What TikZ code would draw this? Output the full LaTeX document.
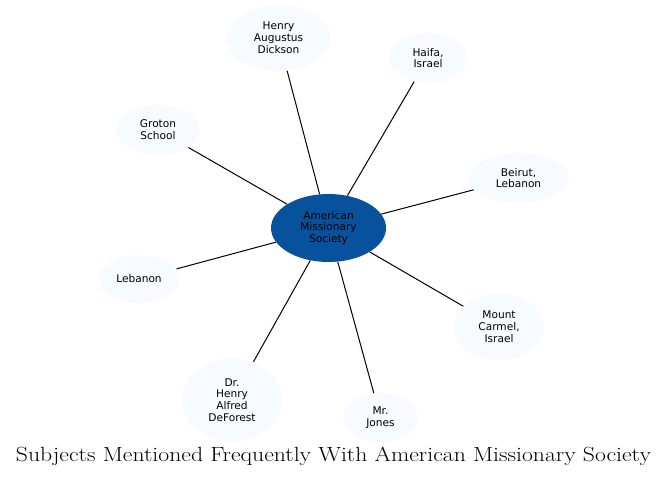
\documentclass[tikz,border=0pt]{standalone}
\usepackage{fontspec}
\usepackage{graphicx}
\newfontfamily\labelfont{DejaVu Sans}
\usetikzlibrary{shapes.geometric}
\definecolor{hubc}{RGB}{8,81,156}
\definecolor{leafc}{RGB}{247,251,255}
\tikzstyle{subjects} = [
  x=1pt,
  y=-1pt,
  every node/.style={
    ellipse,
    inner sep=0pt,
    align=center,
    font=\labelfont\fontsize{10.6}{11.8}\selectfont,
  },
]
\tikzstyle{hub} = [fill=hubc]
\tikzstyle{leaf} = [fill=leafc]
\tikzstyle{link} = [line width=1pt, black]

\begin{document}
\begin{tikzpicture}[subjects]
      \useasboundingbox (0,0) rectangle (668,478);

      % Centre
      \node[hub, minimum width=115pt, minimum height=68pt] (ams) at (328.5,228)
        {American\\Missionary\\Society};

      % Subjects
      \node[leaf, minimum width=105pt, minimum height=66pt] (dickson) at (278.5,38)
        {Henry\\Augustus\\Dickson};
      \node[leaf, minimum width=79pt, minimum height=50pt] (haifa) at (428,58)
        {Haifa,\\Israel};
      \node[leaf, minimum width=84pt, minimum height=50pt] (groton) at (158,130)
        {Groton\\School};
      \node[leaf, minimum width=101pt, minimum height=50pt] (beirut) at (518.5,178)
        {Beirut,\\Lebanon};
      \node[leaf, minimum width=82pt, minimum height=48pt] (lebanon) at (139,279)
        {Lebanon};
      \node[leaf, minimum width=90pt, minimum height=67pt] (carmel) at (499,327)
        {Mount\\Carmel,\\Israel};
      \node[leaf, minimum width=101pt, minimum height=84pt] (deforest) at (232,400)
        {Dr.\\Henry\\Alfred\\DeForest};
      \node[leaf, minimum width=75pt, minimum height=49pt] (jones) at (380.5,417.5)
        {Mr.\\Jones};

      % Links
      \foreach \s in {dickson,haifa,groton,beirut,lebanon,carmel,deforest,jones}
        \draw[link] (ams) -- (\s);

      % Title
      \node[rectangle, inner sep=0pt, anchor=base, font=\fontsize{19.5}{22}\selectfont] (title) at (333.5,461)
        {\resizebox{635pt}{14.5pt}{Subjects Mentioned Frequently With American Missionary Society}};
    \end{tikzpicture}
\end{document}
